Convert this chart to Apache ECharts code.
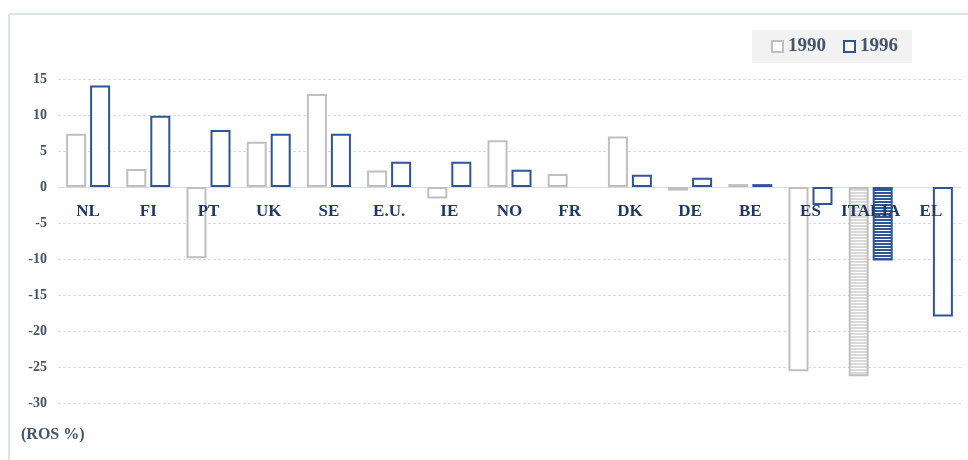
<!DOCTYPE html>
<html>
<head>
<meta charset="utf-8">
<script src="https://cdn.jsdelivr.net/npm/echarts@6/dist/echarts.min.js"></script>
<style>
    html, body { margin: 0; padding: 0; background: #fff; }
    #chart { width: 968px; height: 460px; }
</style>
</head>
<body>
<div id="chart"></div>
<script>
// Data (ROS %)
const categories = ['NL', 'FI', 'PT', 'UK', 'SE', 'E.U.', 'IE', 'NO', 'FR', 'DK', 'DE', 'BE', 'ES', 'ITALIA', 'EL'];
const values1990 = [7.4, 2.5, -9.9, 6.3, 12.9, 2.3, -1.6, 6.5, 1.8, 7.0, -0.5, 0.4, -25.6, -26.3, null];
const values1996 = [14.1, 9.9, 7.9, 7.4, 7.4, 3.5, 3.5, 2.4, null, 1.7, 1.3, 0.4, -2.5, -10.2, -18.0];
const yTicks = { min: -30, max: 15, step: 5 };

const GREY = '#bfbfbf';
const BLUE = '#2f5597';
const SERIF = '"Liberation Serif", "DejaVu Serif", serif';

// striped fill used for the ITALIA bars
function stripePattern(lineColor) {
    const c = document.createElement('canvas');
    c.width = 4;
    c.height = 3;
    const ctx = c.getContext('2d');
    ctx.fillStyle = '#ffffff';
    ctx.fillRect(0, 0, 4, 3);
    ctx.fillStyle = lineColor;
    ctx.fillRect(0, 0, 4, 2);
    return { image: c, repeat: 'repeat' };
}

function buildData(values, stripeColor) {
    return values.map((v, i) => {
        if (categories[i] === 'ITALIA') {
            return { value: v, itemStyle: { color: stripePattern(stripeColor) } };
        }
        return v;
    });
}

const chart = echarts.init(document.getElementById('chart'));

chart.setOption({
    animation: false,
    backgroundColor: '#ffffff',
    graphic: [
        { type: 'line', shape: { x1: 9, y1: 14, x2: 968, y2: 14 }, style: { stroke: '#dde3ea', lineWidth: 2 } },
        { type: 'line', shape: { x1: 9, y1: 14, x2: 9, y2: 460 }, style: { stroke: '#dde3ea', lineWidth: 2 } },
        {
            type: 'text', left: 21, top: 427,
            style: { text: '(ROS %)', font: 'bold 16px ' + SERIF, fill: '#44546a' }
        }
    ],
    legend: {
        data: ['1990', '1996'],
        left: 752,
        top: 30,
        padding: [7, 14, 7, 19],
        backgroundColor: '#f2f2f2',
        itemWidth: 11,
        itemHeight: 11,
        itemGap: 17,
        icon: 'rect',
        textStyle: { fontFamily: SERIF, fontWeight: 'bold', fontSize: 19, color: '#44546a' }
    },
    // second grid ends at the zero line so the category labels sit just under it
    grid: [
        { left: 58, right: 7, top: 79, bottom: 57 },
        { left: 58, right: 7, top: 79, bottom: 273 }
    ],
    xAxis: [
        {
            type: 'category',
            data: categories,
            axisLine: { onZero: true, lineStyle: { color: '#d6dee8', width: 1 } },
            axisTick: { show: false },
            axisLabel: { show: false }
        },
        {
            type: 'category',
            gridIndex: 1,
            data: categories,
            z: 10,
            axisLine: { show: false },
            axisTick: { show: false },
            axisLabel: {
                margin: 16,
                interval: 0,
                fontFamily: SERIF,
                fontWeight: 'bold',
                fontSize: 17,
                color: '#1f3864'
            }
        }
    ],
    yAxis: [
        {
            type: 'value',
            min: yTicks.min,
            max: yTicks.max,
            interval: yTicks.step,
            axisLine: { show: false },
            axisTick: { show: false },
            axisLabel: {
                margin: 11,
                fontFamily: SERIF,
                fontWeight: 'bold',
                fontSize: 14,
                color: '#44546a'
            },
            splitLine: { lineStyle: { color: '#dcdcdc', type: [3, 2] } }
        },
        {
            type: 'value',
            gridIndex: 1,
            show: false
        }
    ],
    series: [
        {
            name: '1990',
            type: 'bar',
            data: buildData(values1990, '#d9d9d9'),
            barWidth: 20,
            barGap: '20%',
            itemStyle: { color: '#ffffff', borderColor: GREY, borderWidth: 2 }
        },
        {
            name: '1996',
            type: 'bar',
            data: buildData(values1996, BLUE),
            barWidth: 20,
            itemStyle: { color: '#ffffff', borderColor: BLUE, borderWidth: 2 }
        }
    ]
});
</script>
</body>
</html>
